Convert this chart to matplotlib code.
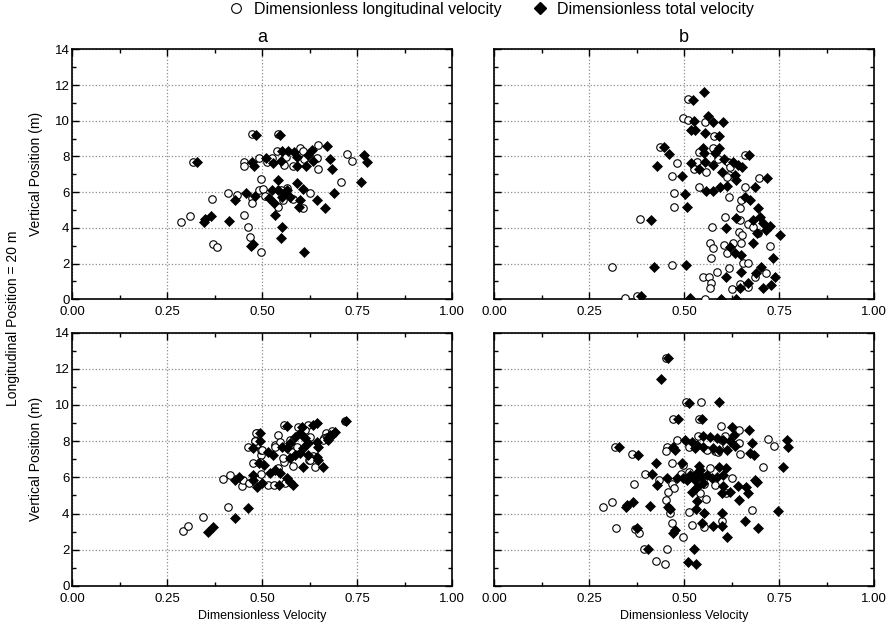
## velocity profiles, 4 panels ##

import matplotlib
matplotlib.use("Agg")
import matplotlib.pyplot as plt
from matplotlib.lines import Line2D
from matplotlib.ticker import MultipleLocator, FormatStrFormatter

#//data\\#

#---panel a, top row---#
a1_lon_x = [0.285, 0.309, 0.367, 0.371, 0.380, 0.317, 0.411, 0.434, 0.453, 0.463, 0.468, 0.496, 0.453, 0.452, 0.473,
            0.490, 0.497, 0.472, 0.474, 0.491, 0.503, 0.507, 0.513, 0.538, 0.540, 0.540, 0.558, 0.562, 0.564, 0.554,
            0.582, 0.582, 0.599, 0.608, 0.611, 0.626, 0.608, 0.643, 0.646, 0.647, 0.707, 0.722, 0.737, 0.525, 0.548]
a1_lon_y = [4.33, 4.66, 5.62, 3.11, 2.95, 7.69, 5.97, 5.84, 4.72, 4.03, 3.47, 2.67, 7.71, 7.48, 9.24,
            7.93, 6.72, 5.65, 5.41, 6.12, 6.16, 5.78, 7.71, 8.30, 9.24, 5.19, 7.50, 7.98, 6.21, 5.56,
            5.60, 7.48, 8.45, 8.32, 7.84, 5.93, 5.10, 7.90, 8.64, 7.30, 6.59, 8.12, 7.74, 7.90, 6.10]
a1_tot_x = [0.346, 0.348, 0.365, 0.328, 0.412, 0.427, 0.456, 0.474, 0.478, 0.483, 0.471, 0.476, 0.480, 0.510, 0.518,
            0.529, 0.533, 0.540, 0.547, 0.548, 0.551, 0.553, 0.548, 0.567, 0.566, 0.559, 0.553, 0.541, 0.526, 0.532,
            0.573, 0.583, 0.591, 0.592, 0.592, 0.599, 0.597, 0.608, 0.614, 0.611, 0.621, 0.632, 0.634, 0.643, 0.666,
            0.670, 0.679, 0.683, 0.688, 0.759, 0.768, 0.775]
a1_tot_y = [4.35, 4.48, 4.68, 7.67, 4.38, 5.56, 5.97, 7.71, 7.48, 9.22, 2.98, 3.10, 5.78, 7.90, 5.65,
            7.65, 4.70, 6.68, 9.20, 7.74, 8.30, 4.03, 3.41, 8.30, 6.12, 5.93, 5.71, 6.12, 6.12, 5.41,
            5.75, 8.23, 7.98, 7.46, 6.53, 5.56, 5.15, 6.19, 7.46, 2.67, 8.08, 8.36, 7.74, 5.56, 5.10,
            8.60, 7.87, 7.30, 5.93, 6.59, 8.08, 7.71]

#---panel b, top row---#
b1_lon_x = [0.510, 0.497, 0.511, 0.555, 0.580, 0.437, 0.577, 0.540, 0.482, 0.535, 0.558, 0.525, 0.589, 0.617, 0.621,
            0.619, 0.612, 0.661, 0.698, 0.468, 0.539, 0.661, 0.474, 0.619, 0.650, 0.647, 0.474, 0.384, 0.608, 0.647,
            0.573, 0.669, 0.681, 0.646, 0.652, 0.696, 0.568, 0.577, 0.605, 0.628, 0.649, 0.612, 0.656, 0.669, 0.571,
            0.311, 0.469, 0.619, 0.586, 0.551, 0.567, 0.570, 0.568, 0.625, 0.647, 0.669, 0.687, 0.345, 0.376, 0.555,
            0.725, 0.715]
b1_lon_y = [11.20, 10.13, 10.04, 9.91, 9.16, 8.54, 8.49, 8.26, 7.65, 7.71, 7.15, 7.28, 7.84, 7.71, 7.43,
            6.96, 6.87, 8.08, 6.81, 6.90, 6.27, 6.27, 5.93, 5.75, 5.56, 5.13, 5.17, 4.48, 4.59, 4.44,
            4.03, 4.22, 4.03, 3.79, 3.60, 3.73, 3.13, 2.85, 3.04, 3.17, 3.13, 2.61, 2.05, 2.01, 2.29,
            1.81, 1.92, 1.74, 1.51, 1.23, 1.23, 0.89, 0.61, 0.58, 0.86, 0.71, 1.27, 0.05, 0.19, 0.00,
            3.00, 1.50]
b1_tot_x = [0.552, 0.523, 0.562, 0.527, 0.577, 0.602, 0.519, 0.529, 0.555, 0.592, 0.447, 0.461, 0.428, 0.549, 0.553,
            0.591, 0.581, 0.518, 0.539, 0.555, 0.577, 0.606, 0.599, 0.630, 0.643, 0.652, 0.637, 0.634, 0.672, 0.718,
            0.494, 0.558, 0.577, 0.595, 0.612, 0.687, 0.503, 0.507, 0.661, 0.674, 0.412, 0.636, 0.611, 0.694, 0.700,
            0.709, 0.682, 0.691, 0.682, 0.621, 0.634, 0.651, 0.422, 0.505, 0.651, 0.610, 0.647, 0.669, 0.689, 0.702,
            0.708, 0.387, 0.516, 0.597, 0.637, 0.753, 0.740, 0.728, 0.735, 0.715, 0.725]
b1_tot_y = [11.61, 11.16, 10.28, 9.98, 9.91, 9.95, 9.46, 9.46, 9.31, 9.14, 8.53, 8.15, 7.45, 8.45, 8.21,
            8.47, 8.21, 7.61, 7.28, 7.71, 7.52, 7.84, 7.15, 7.71, 7.52, 7.43, 6.68, 6.96, 8.08, 6.81,
            6.90, 6.08, 6.06, 6.31, 6.34, 6.27, 5.90, 5.17, 5.75, 5.56, 4.44, 4.57, 3.97, 5.09, 4.63,
            4.25, 4.44, 3.69, 3.13, 2.95, 2.61, 2.48, 1.79, 1.92, 1.55, 1.23, 0.61, 0.89, 1.48, 1.79,
            0.61, 0.19, 0.05, 0.00, 0.00, 3.62, 1.25, 0.80, 2.30, 3.90, 4.10]

#---panel a, bottom row---#
a2_lon_x = [0.292, 0.305, 0.343, 0.411, 0.396, 0.415, 0.447, 0.450, 0.466, 0.463, 0.481, 0.487, 0.476, 0.497, 0.497,
            0.497, 0.516, 0.557, 0.595, 0.621, 0.639, 0.582, 0.624, 0.633, 0.668, 0.683, 0.663, 0.557, 0.542, 0.586,
            0.533, 0.718, 0.483, 0.481, 0.498, 0.542, 0.547, 0.573, 0.577, 0.590, 0.612, 0.626, 0.661, 0.669, 0.555,
            0.626, 0.533, 0.494, 0.530, 0.560]
a2_lon_y = [3.05, 3.33, 3.79, 4.35, 5.91, 6.13, 5.52, 5.85, 5.67, 7.66, 8.02, 8.47, 6.77, 7.23, 7.51,
            6.17, 5.58, 8.89, 8.80, 8.89, 6.59, 6.64, 6.96, 7.18, 8.43, 8.56, 8.16, 6.86, 6.50, 7.51,
            7.79, 9.13, 8.43, 8.00, 7.51, 8.34, 7.97, 8.06, 7.42, 7.69, 8.61, 8.24, 8.06, 8.24, 7.05,
            6.96, 7.69, 6.86, 5.60, 5.70]
a2_tot_x = [0.358, 0.369, 0.428, 0.463, 0.428, 0.438, 0.476, 0.476, 0.485, 0.498, 0.492, 0.505, 0.520, 0.533, 0.546,
            0.545, 0.564, 0.573, 0.580, 0.494, 0.494, 0.475, 0.564, 0.604, 0.643, 0.633, 0.608, 0.661, 0.647, 0.683,
            0.691, 0.674, 0.720, 0.516, 0.529, 0.551, 0.564, 0.573, 0.586, 0.599, 0.612, 0.621, 0.608, 0.599, 0.586,
            0.573, 0.621, 0.643, 0.647, 0.643, 0.678, 0.674]
a2_tot_y = [3.00, 3.28, 3.74, 4.29, 5.85, 6.04, 6.13, 5.85, 5.48, 5.67, 6.77, 6.68, 6.22, 6.41, 6.22,
            5.58, 5.95, 5.76, 5.58, 8.43, 8.00, 7.64, 8.83, 8.80, 8.98, 8.89, 6.59, 6.59, 6.96, 8.34,
            8.52, 8.16, 9.13, 7.42, 7.23, 7.69, 7.60, 7.88, 8.24, 8.43, 8.16, 7.88, 7.60, 7.33, 7.23,
            7.05, 7.23, 7.14, 7.69, 7.97, 8.34, 8.06]

#---panel b, bottom row---#
b2_lon_x = [0.452, 0.504, 0.545, 0.472, 0.540, 0.597, 0.646, 0.608, 0.536, 0.481, 0.454, 0.453, 0.318, 0.364, 0.514,
            0.560, 0.582, 0.590, 0.599, 0.611, 0.645, 0.647, 0.722, 0.738, 0.709, 0.469, 0.498, 0.568, 0.397, 0.435,
            0.368, 0.468, 0.474, 0.459, 0.492, 0.507, 0.514, 0.542, 0.553, 0.582, 0.625, 0.558, 0.610, 0.286, 0.310,
            0.453, 0.463, 0.514, 0.678, 0.321, 0.371, 0.382, 0.469, 0.520, 0.553, 0.601, 0.497, 0.396, 0.454, 0.425,
            0.450]
b2_lon_y = [12.61, 10.14, 10.16, 9.20, 9.22, 8.82, 8.61, 8.30, 8.28, 8.06, 7.69, 7.47, 7.69, 7.27, 7.66,
            7.51, 7.47, 7.38, 8.06, 7.79, 7.91, 7.29, 8.10, 7.73, 6.59, 6.81, 6.68, 6.50, 6.18, 5.85,
            5.63, 5.63, 5.39, 5.21, 6.17, 5.95, 6.31, 5.15, 5.63, 5.58, 5.95, 4.79, 5.12, 4.35, 4.66,
            4.75, 4.05, 4.07, 4.20, 3.22, 3.13, 2.94, 3.46, 3.37, 3.24, 3.61, 2.69, 2.06, 2.03, 1.38,
            1.21]
b2_tot_x = [0.459, 0.439, 0.512, 0.593, 0.483, 0.547, 0.625, 0.671, 0.632, 0.551, 0.568, 0.586, 0.603, 0.621, 0.503,
            0.520, 0.533, 0.529, 0.549, 0.577, 0.680, 0.634, 0.674, 0.685, 0.592, 0.614, 0.770, 0.774, 0.761, 0.329,
            0.380, 0.476, 0.472, 0.426, 0.496, 0.540, 0.542, 0.592, 0.611, 0.415, 0.428, 0.454, 0.481, 0.498, 0.507,
            0.516, 0.533, 0.547, 0.560, 0.573, 0.586, 0.603, 0.529, 0.551, 0.520, 0.533, 0.602, 0.599, 0.621, 0.643,
            0.663, 0.668, 0.687, 0.691, 0.646, 0.365, 0.347, 0.349, 0.411, 0.457, 0.463, 0.532, 0.553, 0.533, 0.599,
            0.747, 0.375, 0.472, 0.476, 0.548, 0.575, 0.599, 0.661, 0.694, 0.612, 0.404, 0.526, 0.511, 0.531]
b2_tot_y = [12.57, 11.41, 10.09, 10.14, 9.20, 9.20, 8.80, 8.61, 8.34, 8.30, 8.24, 8.16, 8.06, 8.02, 8.06,
            7.97, 7.79, 7.60, 7.69, 7.60, 7.88, 7.73, 7.33, 7.23, 7.51, 7.51, 8.06, 7.69, 6.59, 7.66,
            7.23, 7.51, 7.66, 6.81, 6.81, 6.64, 6.41, 6.59, 6.50, 6.17, 5.58, 5.98, 5.98, 5.98, 5.85,
            6.13, 6.22, 6.04, 6.13, 5.95, 6.04, 6.13, 5.85, 5.67, 5.21, 5.48, 5.54, 5.15, 5.21, 5.54,
            5.45, 5.12, 5.85, 5.76, 4.75, 4.66, 4.35, 4.47, 4.42, 4.35, 4.24, 4.24, 4.01, 4.71, 4.05,
            4.16, 3.22, 2.94, 3.09, 3.46, 3.33, 3.33, 3.59, 3.22, 2.69, 2.06, 2.03, 1.34, 1.20]

x_ticks = [0.0, 0.25, 0.5, 0.75, 1.0]
y_ticks = [0, 2, 4, 6, 8, 10, 12, 14]

lon_label = "Dimensionless longitudinal velocity"
tot_label = "Dimensionless total velocity"

#//figure\\#

plt.rcParams['font.family'] = ['Liberation Sans', 'DejaVu Sans']

fig = plt.figure(figsize=(8.88, 6.27), dpi=100)

W, H = 888.0, 627.0
# axes boxes in pixels: left, top, right, bottom
boxes = {
    "a1": (72.3, 49.3, 452.3, 299.3),
    "b1": (494.0, 49.3, 874.0, 299.3),
    "a2": (72.3, 332.5, 452.3, 586.0),
    "b2": (494.0, 332.5, 874.0, 586.0),
}

def make_ax(key):
    l, t, r, b = boxes[key]
    return fig.add_axes([l / W, 1 - b / H, (r - l) / W, (b - t) / H])

def style_ax(ax, show_y):
    ax.set_xlim(0, 1)
    ax.set_ylim(0, 14)
    ax.set_xticks(x_ticks)
    ax.set_yticks(y_ticks)
    ax.xaxis.set_minor_locator(MultipleLocator(0.125))
    ax.yaxis.set_minor_locator(MultipleLocator(1))
    ax.xaxis.set_major_formatter(FormatStrFormatter('%.2f'))
    ax.tick_params(which='both', direction='in', top=True, right=True, labelsize=9.5)
    ax.tick_params(axis='x', pad=5)
    ax.tick_params(axis='y', pad=2)
    ax.tick_params(which='major', length=5, width=1)
    ax.tick_params(which='minor', length=3, width=1)
    if not show_y:
        ax.tick_params(labelleft=False)
    for s in ax.spines.values():
        s.set_linewidth(1.2)
        s.set_color('black')
    ax.grid(True, which='major', linestyle=':', color='#8c8c8c', linewidth=0.9)
    ax.set_axisbelow(True)

def draw(ax, lx, ly, tx, ty):
    ax.plot(lx, ly, 'o', ms=5.4, mfc='white', mec='black', mew=0.8, ls='none', zorder=3)
    ax.plot(tx, ty, 'D', ms=4.6, mfc='black', mec='black', mew=0.5, ls='none', zorder=4)

ax1 = make_ax("a1")
ax2 = make_ax("b1")
ax3 = make_ax("a2")
ax4 = make_ax("b2")

draw(ax1, a1_lon_x, a1_lon_y, a1_tot_x, a1_tot_y)
draw(ax2, b1_lon_x, b1_lon_y, b1_tot_x, b1_tot_y)
draw(ax3, a2_lon_x, a2_lon_y, a2_tot_x, a2_tot_y)
draw(ax4, b2_lon_x, b2_lon_y, b2_tot_x, b2_tot_y)

style_ax(ax1, True)
style_ax(ax2, False)
style_ax(ax3, True)
style_ax(ax4, False)

#---titles a / b---#
ax1.text(0.5, 1.012, "a", transform=ax1.transAxes, ha='center', va='bottom', fontsize=13)
ax2.text(0.5, 1.012, "b", transform=ax2.transAxes, ha='center', va='bottom', fontsize=13)

#---axis labels---#
ax3.set_xlabel("Dimensionless Velocity", fontsize=9, labelpad=4)
ax4.set_xlabel("Dimensionless Velocity", fontsize=9, labelpad=4)
fig.text(36 / W, 1 - 174 / H, "Vertical Position (m)", rotation=90, ha='center', va='center', fontsize=10)
fig.text(36 / W, 1 - 459 / H, "Vertical Position (m)", rotation=90, ha='center', va='center', fontsize=10)
fig.text(13 / W, 1 - 318 / H, "Longitudinal Position = 20 m", rotation=90, ha='center', va='center', fontsize=10)

#---legend---#
handles = [
    Line2D([], [], marker='o', ls='none', ms=7, mfc='white', mec='black', mew=0.8, label=lon_label),
    Line2D([], [], marker='D', ls='none', ms=6, mfc='black', mec='black', label=tot_label),
]
fig.legend(handles=handles, loc='upper center', bbox_to_anchor=(0.552, 1.02), ncol=2, frameon=False,
           fontsize=11.5, handletextpad=0.5, columnspacing=1.8, handlelength=1.2)

fig.savefig("out.png", dpi=100)
